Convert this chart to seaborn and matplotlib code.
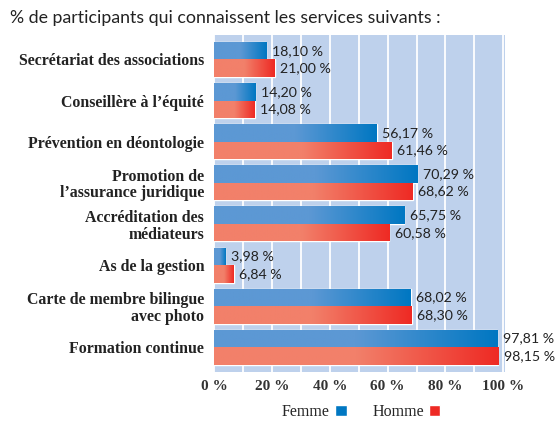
import numpy as np
import pandas as pd
import seaborn as sns
from matplotlib import pyplot as plt
from matplotlib.colors import LinearSegmentedColormap
from matplotlib.patches import Patch

services = ['Secrétariat des associations',
            'Conseillère à l’équité',
            'Prévention en déontologie',
            'Promotion de\nl’assurance juridique',
            'Accréditation des\nmédiateurs',
            'As de la gestion',
            'Carte de membre bilingue\navec photo',
            'Formation continue']
femme = [18.10, 14.20, 56.17, 70.29, 65.75, 3.98, 68.02, 97.81]
homme = [21.00, 14.08, 61.46, 68.62, 60.58, 6.84, 68.30, 98.15]
groups = ['Femme', 'Homme']
xticks = [0, 20, 40, 60, 80, 100]

df = pd.DataFrame({'service': services * 2,
                   'pct': femme + homme,
                   'sexe': ['Femme'] * len(femme) + ['Homme'] * len(homme)})

sns.set_theme(style='white')
plt.rcParams['font.family'] = ['Lato', 'DejaVu Sans']

dark = {'Femme': '#0077c2', 'Homme': '#ee2a24'}
light = {'Femme': '#5c98d4', 'Homme': '#f2806a'}

fig = plt.figure(figsize=(5.6, 4.3), dpi=100)
ax = fig.add_axes([0.382, 0.135, 0.52, 0.784])
sns.barplot(data=df, y='service', x='pct', hue='sexe', hue_order=groups,
            palette=dark, saturation=1, width=0.85, gap=0, orient='h',
            legend=False, ax=ax, zorder=2)

# gradient fill inside each bar (light left -> dark right)
grad = np.linspace(0, 1, 256).reshape(1, -1)
for cont, g in zip(ax.containers, groups):
    cmap = LinearSegmentedColormap.from_list(g, [light[g], light[g], dark[g]])
    for p in cont.patches:
        x0, y0 = p.get_x(), p.get_y()
        w, h = p.get_width(), p.get_height()
        im = ax.imshow(grad, cmap=cmap, aspect='auto', zorder=3,
                       extent=[x0, x0 + w, y0 + h, y0])
        im.set_clip_path(p)
    vals = femme if g == 'Femme' else homme
    labels = [('%.2f' % v).replace('.', ',') + ' %' for v in vals]
    ax.bar_label(cont, labels=labels, padding=4, fontsize=10.2, color='#222222')

ax.set_xlim(0, 100.6)
ax.set_ylim(7.6, -0.6)

ax.set_facecolor('#bed1ec')
ax.set_xticks(xticks)
ax.set_xticks(range(10, 100, 20), minor=True)
ax.set_xticklabels(['%d %%' % t for t in xticks], fontfamily='Liberation Serif',
                   fontweight='bold', fontsize=11, color='#333333')
ax.grid(axis='x', which='both', color='white', lw=1.3)
ax.set_axisbelow(True)
for lab in ax.get_yticklabels():
    lab.set_fontfamily('Liberation Serif')
    lab.set_fontweight('bold')
    lab.set_fontsize(11.4)
    lab.set_color('#222222')
    lab.set_multialignment('right')
    lab.set_linespacing(1.05)
ax.tick_params(axis='both', which='both', length=0)
ax.tick_params(axis='y', pad=7)
ax.tick_params(axis='x', pad=6)
ax.set_xlabel('')
ax.set_ylabel('')
sns.despine(ax=ax, left=True, bottom=True)

fig.text(0.018, 0.958, '% de participants qui connaissent les services suivants :',
         fontsize=12.8, color='#222222', va='center')

handles = [Patch(facecolor=dark[g], label=g) for g in groups]
fig.legend(handles=handles, loc='center', bbox_to_anchor=(0.645, 0.042), ncol=2,
           frameon=False, markerfirst=False, handlelength=0.75, handleheight=0.75,
           columnspacing=1.6, handletextpad=0.3,
           prop={'family': 'Liberation Serif', 'size': 11.5})

fig.savefig('out.png', dpi=100)
